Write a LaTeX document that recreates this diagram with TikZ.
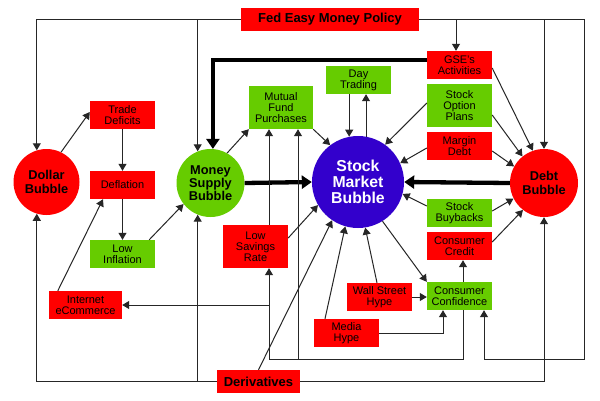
\documentclass[tikz,border=0pt]{standalone}
\usepackage{fontspec}
\setmainfont{Liberation Sans}
\usetikzlibrary{arrows.meta}
\definecolor{bred}{HTML}{FF0000}
\definecolor{bgreen}{HTML}{66CC00}
\definecolor{bblue}{HTML}{3300CC}
\begin{document}
\begin{tikzpicture}[x=1pt,y=-1pt,
  box/.style={rectangle,inner sep=0pt,align=center,font=\fontsize{11}{11}\selectfont},
  rbox/.style={box,fill=bred},
  gbox/.style={box,fill=bgreen},
  bub/.style={circle,inner sep=0pt,align=center,font=\fontsize{12.8}{13.2}\selectfont\bfseries},
  big/.style={rectangle,inner sep=0pt,fill=bred,font=\fontsize{13}{13}\selectfont\bfseries},
  arr/.style={draw=black!85,line width=1pt,-{Triangle[length=7pt,width=8pt]}},
  thk/.style={draw=black,line width=4.3pt,-{Triangle[length=10pt,width=13pt]}}]
\useasboundingbox (0,0) rectangle (600,400);
\fill[white] (0,0) rectangle (600,400);

% nodes
\node[big,minimum width=178pt,minimum height=23pt] (fed) at (330,19.5) {Fed Easy Money Policy};
\node[big,minimum width=83pt,minimum height=23pt] (deriv) at (258.5,381.5) {Derivatives};
\node[bub,fill=bred,minimum size=66pt] (dollar) at (46.5,182) {Dollar\\Bubble};
\node[bub,fill=bgreen,minimum size=68pt] (money) at (210.5,183) {Money\\Supply\\Bubble};
\node[bub,fill=bblue,text=white,minimum size=92pt,font=\fontsize{15.8}{16}\selectfont\bfseries] (stock) at (358,182) {Stock\\Market\\Bubble};
\node[bub,fill=bred,minimum size=68pt] (debt) at (544,183) {Debt\\Bubble};

\node[rbox,minimum width=65pt,minimum height=28pt] (trade) at (122.5,115) {Trade\\Deficits};
\node[rbox,minimum width=65pt,minimum height=28pt] (defl) at (122.5,185) {Deflation};
\node[gbox,minimum width=65pt,minimum height=28pt] (lowinf) at (122.5,254) {Low\\Inflation};
\node[rbox,minimum width=73pt,minimum height=28pt] (inet) at (85.5,305) {Internet\\eCommerce};
\node[gbox,minimum width=64pt,minimum height=43pt] (mutual) at (281,107.5) {Mutual\\Fund\\Purchases};
\node[gbox,minimum width=65pt,minimum height=28pt] (day) at (358.5,80) {Day\\Trading};
\node[rbox,minimum width=65pt,minimum height=28pt] (gse) at (459.5,65) {GSE's\\Activities};
\node[gbox,minimum width=65pt,minimum height=43pt] (sop) at (459.5,105.5) {Stock\\Option\\Plans};
\node[rbox,minimum width=65pt,minimum height=28pt] (margin) at (459.5,146) {Margin\\Debt};
\node[gbox,minimum width=65pt,minimum height=28pt] (buyback) at (459.5,213) {Stock\\Buybacks};
\node[rbox,minimum width=65pt,minimum height=28pt] (ccredit) at (459.5,246) {Consumer\\Credit};
\node[gbox,minimum width=65pt,minimum height=28pt] (cconf) at (459.5,296) {Consumer\\Confidence};
\node[rbox,minimum width=65pt,minimum height=28pt] (wsh) at (379.5,297) {Wall Street\\Hype};
\node[rbox,minimum width=65pt,minimum height=28pt] (media) at (346.5,333) {Media\\Hype};
\node[rbox,minimum width=65pt,minimum height=43pt] (lowsav) at (255.5,246.5) {Low\\Savings\\Rate};

\coordinate (rr) at (584,359);
\coordinate (ccb) at (463,359);

% Fed lines
\draw[arr] (fed.west) -| (dollar.107);
\draw[arr] (fed.west -| money.112) -- (money.112);
\draw[arr] (fed.east) -| (rr) -| ([xshift=24.5pt]cconf.south);
\draw[arr] (fed.east -| gse.north) ++(-3.5,0) -- ([xshift=-3.5pt]gse.north);
\draw[arr] (fed.east -| debt.north) -- (debt.north);

% thick
\draw[thk] ([yshift=5pt]gse.west) -| (money.86);
\draw[thk] (money.east) -- (stock.west);
\draw[thk] (debt.west) -- (stock.east);

% left side
\draw[arr] (dollar.64) -- ([yshift=3pt]trade.west);
\draw[arr] (trade.south) -- (defl.north);
\draw[arr] (defl.south) -- (lowinf.north);
\draw[arr] ([xshift=-6pt]lowinf.north east) -- (money.218);
\draw[arr] ([xshift=9pt]inet.north west) -- ([xshift=-19.5pt]defl.south);
\draw[arr] (money.61) -- (mutual.south west);
\draw[arr] (mutual.south east) -- (stock.127);

% day trading
\draw[arr] (day.south -| stock.101) -- (stock.101);
\draw[arr] (stock.80) -- (stock.80 |- day.south);

% right side boxes
\draw[arr] ([yshift=-3pt]gse.east) -- (debt.109);
\draw[arr] ([yshift=2.5pt]sop.west) -- (stock.54);
\draw[arr] ([yshift=-9.5pt]sop.east) -- (debt.129);
\draw[arr] ([yshift=-2pt]margin.west) -- (stock.24);
\draw[arr] ([yshift=-5pt]margin.east) -- (debt.151);
\draw[arr] ([yshift=7pt]buyback.west) -- (stock.345);
\draw[arr] ([yshift=2pt]buyback.east) -- (debt.207);
\draw[arr] ([yshift=4pt]ccredit.east) -- (debt.232);
\draw[arr] ([xshift=3.5pt]cconf.north) -- ([xshift=3.5pt]ccredit.south);
\draw[arr] (stock.302) -- (cconf.north west);

% bottom inputs to stock
\draw[arr] ([xshift=-2.5pt]wsh.north) -- (stock.279);
\draw[arr] (wsh.east) -- (wsh.east -| cconf.west);
\draw[arr] ([xshift=-21.5pt]media.north) -- (stock.254);
\draw[arr] (media.east) -| ([xshift=-16.5pt]cconf.south);
\draw[arr] (deriv.north) -- (stock.236);
\draw[arr] ([yshift=8.5pt]lowsav.east) -- (stock.210);

% low savings / mutual fund
\draw[arr] ([xshift=13.5pt]lowsav.north) -- ([xshift=13.5pt]lowsav.north |- mutual.south);
\draw[arr] ([xshift=3.5pt]cconf.south) -- (ccb) -| ([xshift=13.5pt]lowsav.south);
\draw[arr] ([xshift=17pt]mutual.south |- ccb) -- ([xshift=17pt]mutual.south);
\draw[arr] ([xshift=13.5pt]lowsav.south |- inet.east) -- (inet.east);

% derivatives
\draw[arr] (deriv.west) -| (dollar.253);
\draw[arr] (deriv.west -| money.248) -- (money.248);
\draw[arr] (deriv.east) -| (debt.south);
\end{tikzpicture}
\end{document}
